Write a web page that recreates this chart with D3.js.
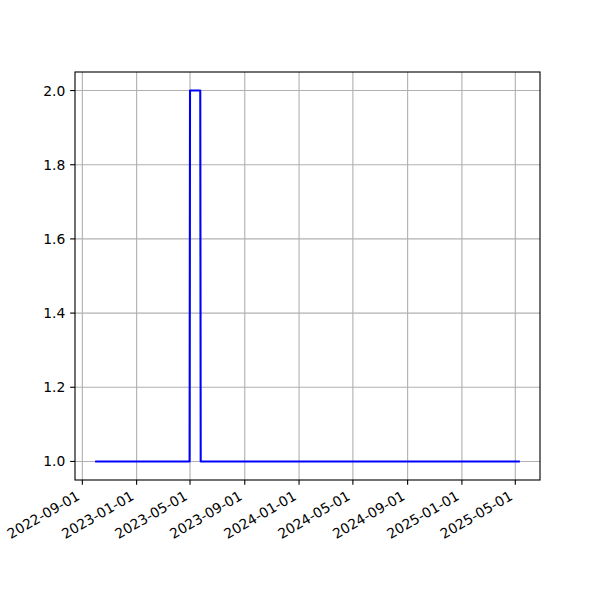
<!DOCTYPE html>
<html>
<head>
<meta charset="utf-8">
<script src="https://cdn.jsdelivr.net/npm/d3@7"></script>
<style>
  html, body { margin: 0; padding: 0; background: #fff; }
  text { font-family: "DejaVu Sans", sans-serif; }
</style>
</head>
<body>
<svg id="chart" width="600" height="600"></svg>
<script>
// Breakpoints of the step series (value stays flat between consecutive points)
const dates = ["2022-10-02", "2023-04-30", "2023-05-01", "2023-05-24", "2023-05-25", "2025-05-09"];
const values = [1, 1, 2, 2, 1, 1];
const xTickLabels = ["2022-09-01", "2023-01-01", "2023-05-01", "2023-09-01", "2024-01-01",
                     "2024-05-01", "2024-09-01", "2025-01-01", "2025-05-01"];
const yTickValues = [1.0, 1.2, 1.4, 1.6, 1.8, 2.0];

const parse = d3.utcParse("%Y-%m-%d");
const data = dates.map((d, i) => ({ date: parse(d), value: values[i] }));

const svg = d3.select("#chart");
const L = 75, R = 540, T = 72, B = 480;

// matplotlib-style 5% margins
const xExt = d3.extent(data, d => d.date);
const xPad = (xExt[1] - xExt[0]) * 0.05;
const yExt = d3.extent(data, d => d.value);
const yPad = (yExt[1] - yExt[0]) * 0.05;

const x = d3.scaleUtc()
  .domain([new Date(+xExt[0] - xPad), new Date(+xExt[1] + xPad)])
  .range([L, R]);
const y = d3.scaleLinear()
  .domain([yExt[0] - yPad, yExt[1] + yPad])
  .range([B, T]);

const xTicks = xTickLabels.map(parse);
const fontSize = 13.89;
const tickLen = 4.86, pad = 4.86;

// grid
const grid = svg.append("g");
grid.selectAll("line.gx").data(xTicks).join("line")
  .attr("x1", d => x(d)).attr("x2", d => x(d))
  .attr("y1", T).attr("y2", B)
  .attr("stroke", "#b0b0b0").attr("stroke-width", 1.11);
grid.selectAll("line.gy").data(yTickValues).join("line")
  .attr("y1", d => y(d)).attr("y2", d => y(d))
  .attr("x1", L).attr("x2", R)
  .attr("stroke", "#b0b0b0").attr("stroke-width", 1.11);

// line
const line = d3.line().x(d => x(d.date)).y(d => y(d.value));
svg.append("path").datum(data)
  .attr("d", line)
  .attr("fill", "none")
  .attr("stroke", "#0000ff")
  .attr("stroke-width", 2.08)
  .attr("stroke-linejoin", "round")
  .attr("stroke-linecap", "square");

// spines
svg.append("rect")
  .attr("x", L).attr("y", T).attr("width", R - L).attr("height", B - T)
  .attr("fill", "none").attr("stroke", "#000").attr("stroke-width", 1.11);

// x ticks
const xg = svg.append("g");
xg.selectAll("line").data(xTicks).join("line")
  .attr("x1", d => x(d)).attr("x2", d => x(d))
  .attr("y1", B).attr("y2", B + tickLen)
  .attr("stroke", "#000").attr("stroke-width", 1.11);
const h = fontSize * (0.76 + 0.236), desc = fontSize * 0.236;
const c30 = Math.cos(Math.PI / 6), s30 = Math.sin(Math.PI / 6);
xg.selectAll("text").data(xTicks).join("text")
  .attr("transform", d => {
    const bx = x(d) - desc * s30;
    const by = B + tickLen + pad + h * c30 - desc * c30;
    return `translate(${bx},${by}) rotate(-30)`;
  })
  .attr("text-anchor", "end")
  .attr("font-size", fontSize)
  .attr("fill", "#000")
  .text((d, i) => xTickLabels[i]);

// y ticks
const yg = svg.append("g");
yg.selectAll("line").data(yTickValues).join("line")
  .attr("x1", L - tickLen).attr("x2", L)
  .attr("y1", d => y(d)).attr("y2", d => y(d))
  .attr("stroke", "#000").attr("stroke-width", 1.11);
yg.selectAll("text").data(yTickValues).join("text")
  .attr("x", L - tickLen - pad)
  .attr("y", d => y(d) + fontSize * 0.36)
  .attr("text-anchor", "end")
  .attr("font-size", fontSize)
  .attr("fill", "#000")
  .text(d => d3.format(".1f")(d));
</script>
</body>
</html>
